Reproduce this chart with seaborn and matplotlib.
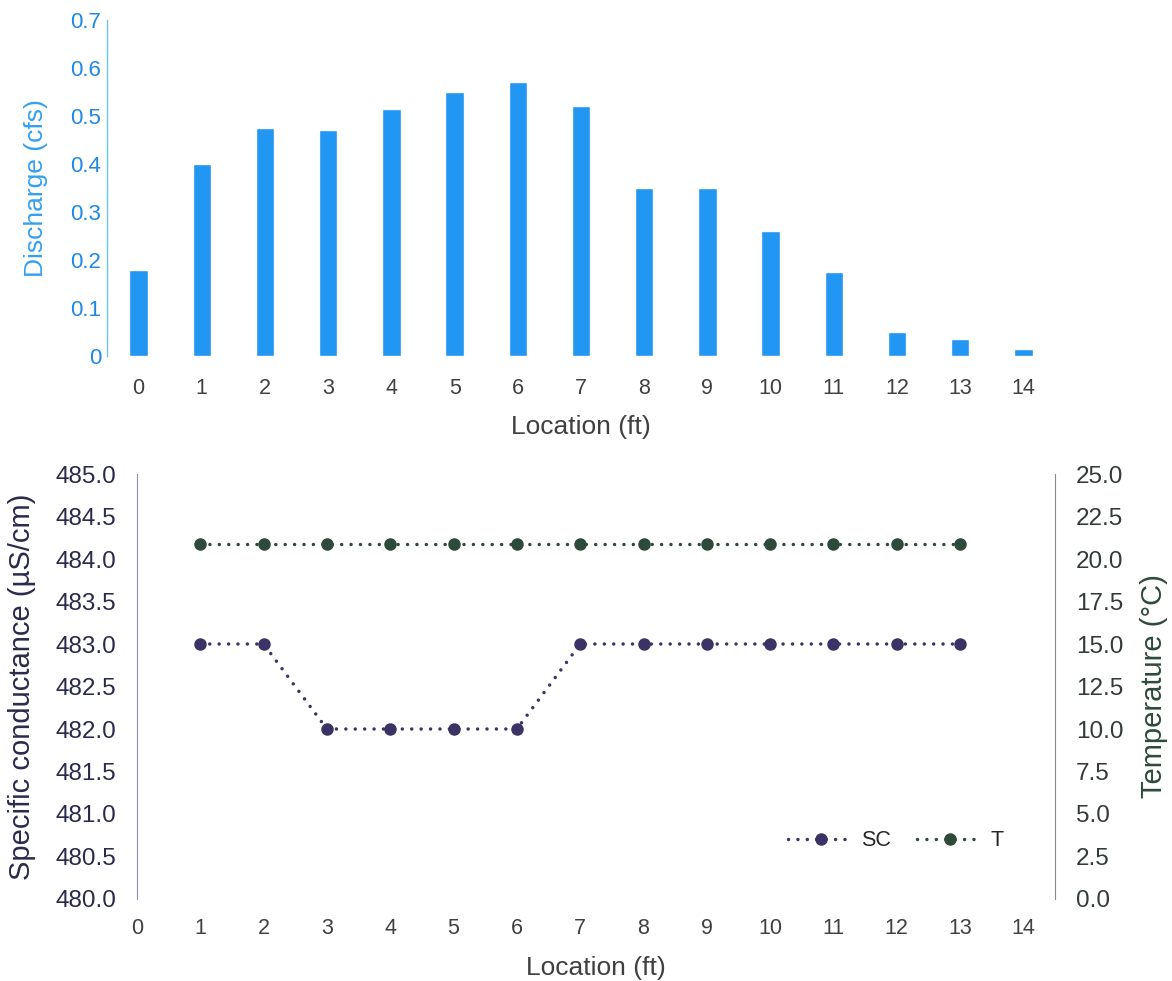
import matplotlib
matplotlib.use("Agg")
import matplotlib.pyplot as plt
import seaborn as sns
import pandas as pd

# discharge per location
locations = list(range(15))
discharge = [0.18, 0.40, 0.475, 0.47, 0.515, 0.55, 0.57, 0.52,
             0.35, 0.35, 0.26, 0.175, 0.05, 0.035, 0.015]

# specific conductance and temperature
profile_locations = list(range(1, 14))
sc_values = [483, 483, 482, 482, 482, 482, 483, 483, 483, 483, 483, 483, 483]
temp_values = [20.9] * 13

top_yticks = [0, 0.1, 0.2, 0.3, 0.4, 0.5, 0.6, 0.7]
top_yticklabels = ["0", "0.1", "0.2", "0.3", "0.4", "0.5", "0.6", "0.7"]
sc_ticks = [480.0, 480.5, 481.0, 481.5, 482.0, 482.5, 483.0, 483.5, 484.0, 484.5, 485.0]
temp_ticks = [0.0, 2.5, 5.0, 7.5, 10.0, 12.5, 15.0, 17.5, 20.0, 22.5, 25.0]

bar_color = "#2196F3"
sc_color = "#3B3366"
temp_color = "#2D4A3B"

sns.set_style("white")
plt.rcParams['font.family'] = ['Liberation Sans', 'DejaVu Sans']

fig = plt.figure(figsize=(11.72, 9.81), dpi=100)
ax1 = fig.add_axes([0.0913, 0.6371, 0.8089, 0.3425])
ax2 = fig.add_axes([0.1169, 0.0836, 0.7833, 0.4332])

# top: discharge bars
df_q = pd.DataFrame({"Location": locations, "Discharge": discharge})
sns.barplot(data=df_q, x="Location", y="Discharge", ax=ax1, color=bar_color,
            saturation=1, width=0.29, native_scale=True)
ax1.set_xlim(-0.5, 14.5)
ax1.set_ylim(0, 0.7)
ax1.set_xticks(locations)
ax1.set_xticklabels([str(v) for v in locations], fontsize=15.5, color="#404040")
ax1.set_yticks(top_yticks)
ax1.set_yticklabels(top_yticklabels, fontsize=16, color="#1E88E5")
ax1.set_xlabel("Location (ft)", fontsize=19, color="#404040", labelpad=11)
ax1.set_ylabel("Discharge (cfs)", fontsize=19, color="#33A0F0", labelpad=16)
for side in ["top", "right", "bottom"]:
    ax1.spines[side].set_visible(False)
ax1.spines["left"].set_color("#6CC4F0")
ax1.spines["left"].set_linewidth(1)
ax1.tick_params(axis="y", length=0, pad=4)
ax1.tick_params(axis="x", length=0, pad=16)

# bottom: specific conductance and temperature
dots = (0, (0.01, 2.7))
ax3 = ax2.twinx()
sns.lineplot(x=profile_locations, y=sc_values, ax=ax2, color=sc_color, linestyle=dots,
             linewidth=2.5, marker="o", markersize=9, markeredgewidth=0, label="SC",
             legend=False, dash_capstyle="round")
sns.lineplot(x=profile_locations, y=temp_values, ax=ax3, color=temp_color, linestyle=dots,
             linewidth=2.5, marker="o", markersize=9, markeredgewidth=0, label="T",
             legend=False, dash_capstyle="round")
ax2.set_xlim(0, 14.5)
ax2.set_ylim(480, 485)
ax3.set_ylim(0, 25)
ax2.set_xticks(locations)
ax2.set_xticklabels([str(v) for v in locations], fontsize=15.5, color="#404040")
ax2.set_yticks(sc_ticks)
ax2.set_yticklabels([f"{v:.1f}" for v in sc_ticks], fontsize=17.5, color="#2A2A4A")
ax3.set_yticks(temp_ticks)
ax3.set_yticklabels([f"{v:.1f}" for v in temp_ticks], fontsize=17.5, color="#333B36")
ax2.set_xlabel("Location (ft)", fontsize=19, color="#404040", labelpad=12)
ax2.set_ylabel("Specific conductance (µS/cm)", fontsize=21, color="#2A2A4A", labelpad=14)
ax3.set_ylabel("Temperature (°C)", fontsize=21, color=temp_color, labelpad=12)
for a in (ax2, ax3):
    a.spines["top"].set_visible(False)
    a.spines["bottom"].set_visible(False)
    a.tick_params(axis="y", length=0, pad=15)
    a.tick_params(axis="x", length=0, pad=14)
ax3.spines["left"].set_visible(False)
ax2.spines["right"].set_visible(False)
ax2.spines["left"].set_color("#8C8CB4")
ax3.spines["right"].set_color("#8A8A8A")

handles = ax2.get_lines()[:1] + ax3.get_lines()[:1]
ax3.legend(handles, ["SC", "T"], loc="center right", bbox_to_anchor=(0.965, 0.137),
           ncol=2, frameon=False, fontsize=15.5, handlelength=3, columnspacing=1.2,
           handletextpad=0.4)

fig.savefig("out.png", dpi=100)
